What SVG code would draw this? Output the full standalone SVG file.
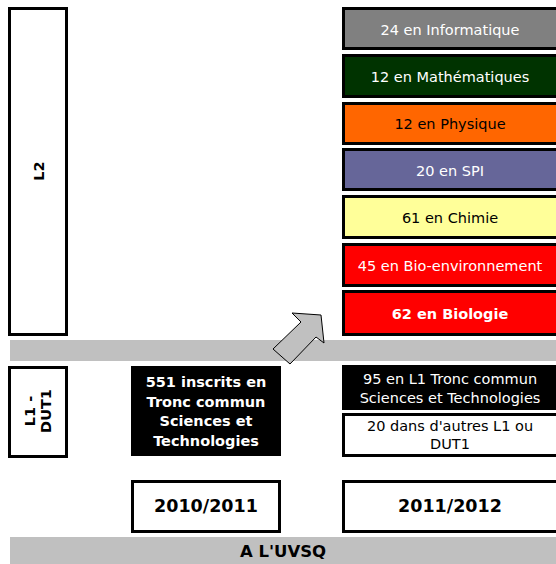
<svg xmlns="http://www.w3.org/2000/svg" width="556" height="564" viewBox="0 0 556 564">
<style>
text{font-family:"DejaVu Sans","Verdana",sans-serif;font-size:14.5px;text-anchor:middle}
.b{font-weight:bold}
.w{fill:#fff}
.k{fill:#000}
.box{stroke:#000;stroke-width:3}
.band{fill:#c0c0c0}
.yr{font-size:17.5px}
</style>
<g id="band-top"><rect class="band" x="10" y="340" width="546" height="21"/></g>
<g id="band-bottom"><rect class="band" x="10" y="537" width="546" height="27"/><text class="b k" style="font-size:16.5px" x="283" y="557">A L'UVSQ</text></g>
<g id="l2"><rect class="box" x="9.5" y="8.5" width="57" height="326" fill="#fff"/><text class="b k" transform="translate(44,171) rotate(-90)">L2</text></g>
<g id="l1"><rect class="box" x="9.5" y="367.5" width="57" height="89" fill="#fff"/><text class="b k" transform="translate(38,411) rotate(-90)"><tspan x="0" y="-3">L1 -</tspan><tspan x="0" y="13">DUT1</tspan></text></g>
<g id="info"><rect class="box" x="343.5" y="8.5" width="220" height="40" fill="#808080"/><text class="w" x="450" y="35">24 en Informatique</text></g>
<g id="math"><rect class="box" x="343.5" y="55.5" width="220" height="41" fill="#003300"/><text class="w" x="450" y="82">12 en Mathématiques</text></g>
<g id="phys"><rect class="box" x="343.5" y="103.5" width="220" height="40" fill="#ff6600"/><text class="k" x="450" y="129">12 en Physique</text></g>
<g id="spi"><rect class="box" x="343.5" y="149.5" width="220" height="40" fill="#666699"/><text class="w" x="450" y="176">20 en SPI</text></g>
<g id="chimie"><rect class="box" x="343.5" y="196.5" width="220" height="41" fill="#ffff99"/><text class="k" x="450" y="223">61 en Chimie</text></g>
<g id="bioenv"><rect class="box" x="343.5" y="244.5" width="220" height="41" fill="#ff0000"/><text class="w" x="450" y="271">45 en Bio-environnement</text></g>
<g id="bio"><rect class="box" x="343.5" y="291.5" width="220" height="43" fill="#ff0000"/><text class="b w" x="450" y="319">62 en Biologie</text></g>
<g id="inscrits"><rect x="131" y="366" width="150" height="90" fill="#000"/><text class="b w" x="206"><tspan x="206" y="387">551 inscrits en</tspan><tspan x="206" y="407">Tronc commun</tspan><tspan x="206" y="426">Sciences et</tspan><tspan x="206" y="446">Technologies</tspan></text></g>
<g id="tronc"><rect x="342" y="365" width="214" height="45" fill="#000"/><text class="w"><tspan x="450" y="384">95 en L1 Tronc commun</tspan><tspan x="450" y="403">Sciences et Technologies</tspan></text></g>
<g id="autres"><rect class="box" x="343.5" y="414.5" width="220" height="41" fill="#fff"/><text class="k"><tspan x="450" y="431">20 dans d'autres L1 ou</tspan><tspan x="450" y="449">DUT1</tspan></text></g>
<g id="y2010"><rect class="box" x="132.5" y="481.5" width="147" height="50" fill="#fff"/><text class="b k yr" x="206" y="512">2010/2011</text></g>
<g id="y2011"><rect class="box" x="343.5" y="481.5" width="220" height="50" fill="#fff"/><text class="b k yr" x="450" y="512">2011/2012</text></g>
<g id="connectors"><polygon points="321,315 292,313 301,322 273,349 290,364 316,337 324,343" fill="#c0c0c0" stroke="#000" stroke-width="1"/></g>
</svg>
